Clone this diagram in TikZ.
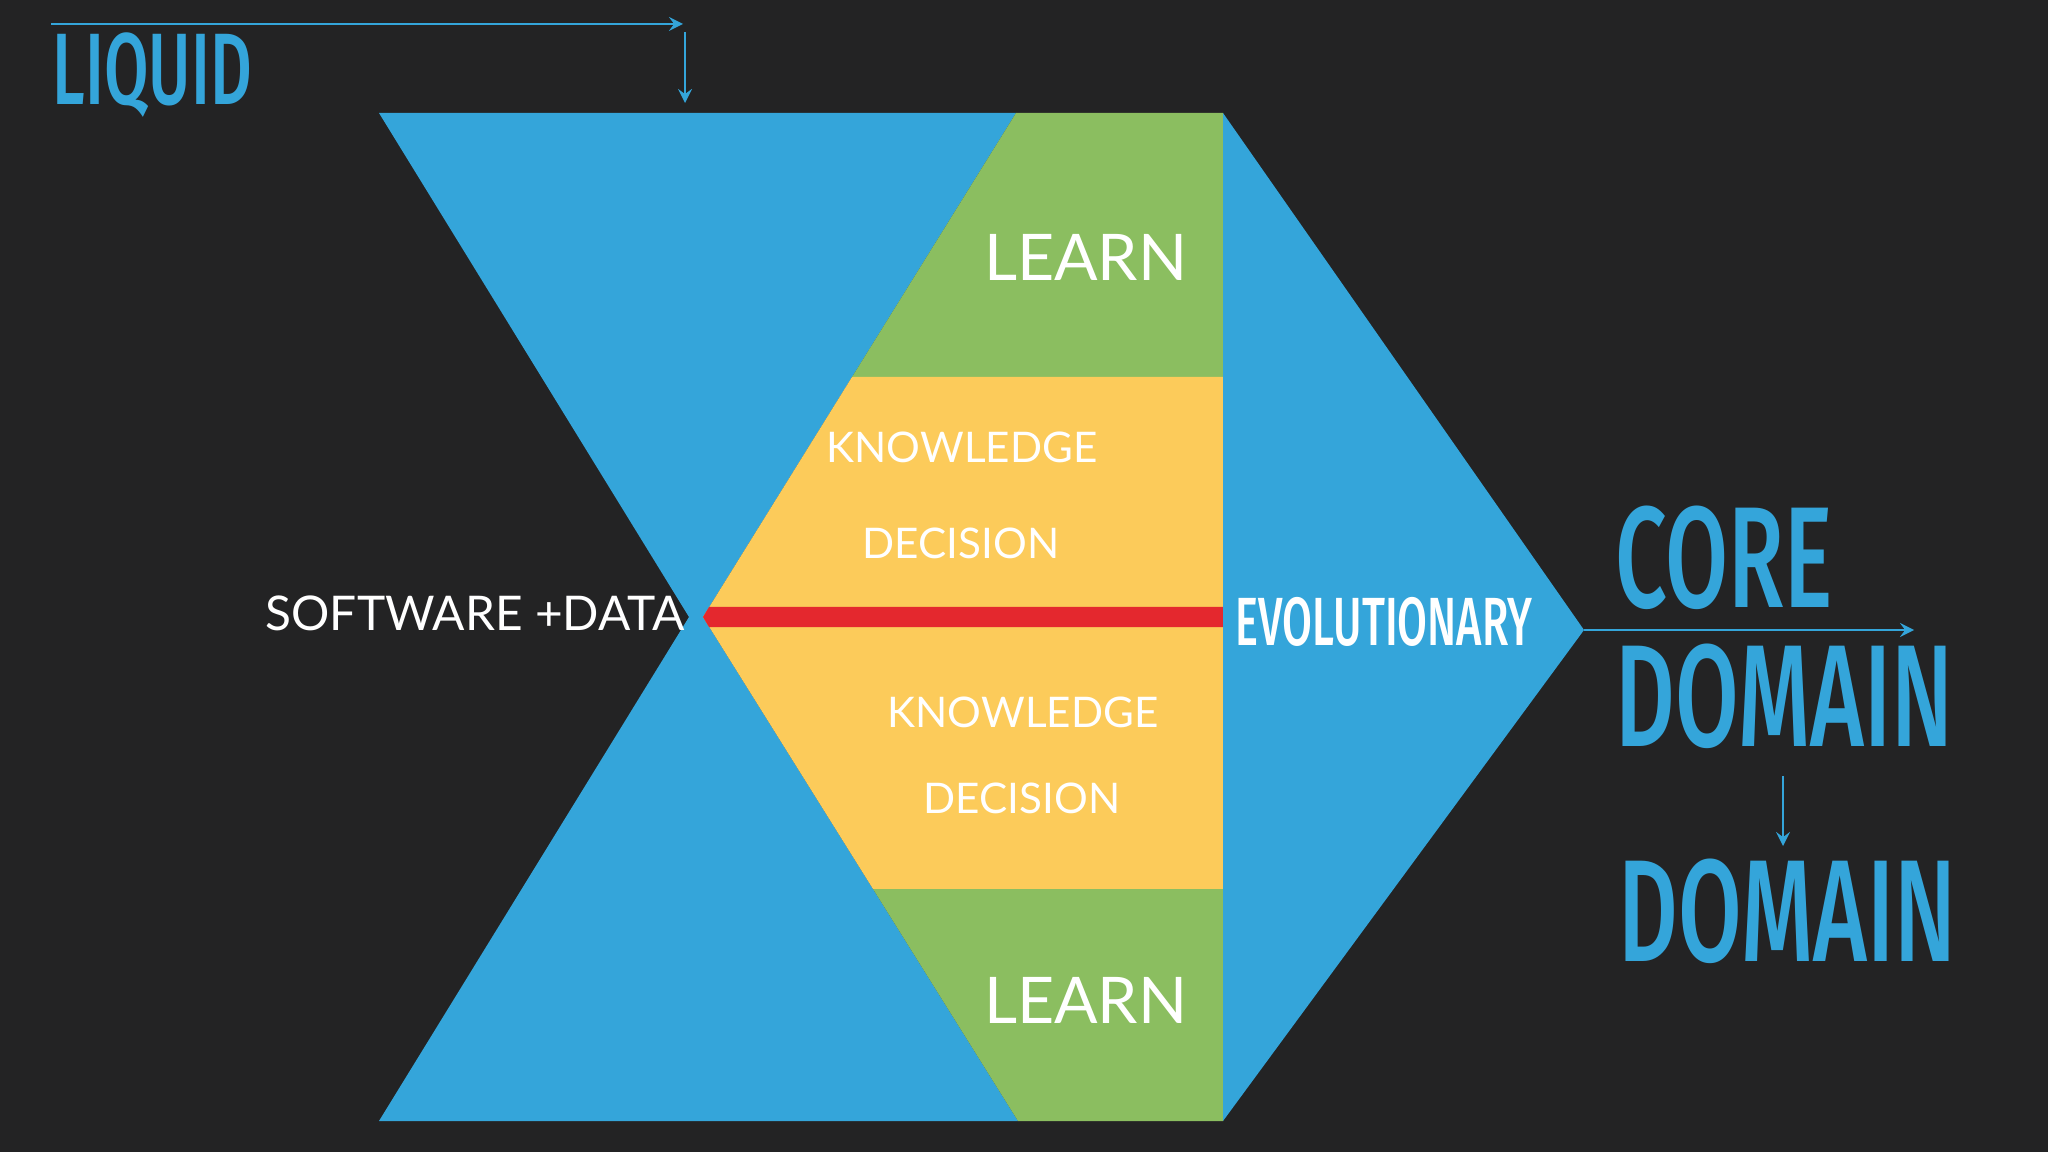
\documentclass[tikz,border=0pt]{standalone}
\usepackage{fontspec}
\setmainfont{Lato}
\newfontfamily\dinfont[FakeStretch=0.635]{Fira Sans Medium}
\definecolor{bg}{RGB}{35,35,36}
\definecolor{skyblue}{RGB}{52,165,218}
\definecolor{leafgreen}{RGB}{139,190,96}
\definecolor{sunyellow}{RGB}{252,203,90}
\definecolor{alertred}{RGB}{228,40,46}
\begin{document}
\begin{tikzpicture}[>=stealth, x=0.01cm, y=-0.01cm,
	word/.style={text=white, inner sep=0pt, font=\fontsize{#1}{#1}\selectfont},
	din/.style={inner sep=0pt, anchor=base west, font=\dinfont\fontsize{#1}{#1}\selectfont},
	link/.style={->, skyblue, line width=0.75pt}]

\useasboundingbox (0,0) rectangle (2048,1152);
\fill [bg] (0,0) rectangle (2048,1152);

\fill [skyblue] (379,113)--(1016,113)--(703,617)--(1018,1121)--(379,1121)--(689,617)--cycle;
\fill [leafgreen] (1016,113)--(1223,113)--(1223,377)--(852,377)--cycle;
\fill [sunyellow] (852,377)--(1223,377)--(1223,617)--(703,617)--cycle;
\fill [sunyellow] (703,617)--(1223,617)--(1223,889)--(873,889)--cycle;
\fill [leafgreen] (873,889)--(1223,889)--(1223,1121)--(1018,1121)--cycle;
\fill [alertred] (703,617)--(709,607)--(1223,607)--(1223,627)--(709,627)--cycle;

\coordinate (tip) at (1584,630);
\fill [skyblue] (1223,113)--(tip)--(1223,1121)--cycle;

\node [word=18.3, anchor=base east] (learnup) at (1188,281) {LEARN};
\node [word=12, anchor=base] (knowup) at (962,463) {KNOWLEDGE};
\node [word=12, anchor=base] (decup) at (961,558) {DECISION};
\node [word=12, anchor=base] (knowdown) at (1023,727) {KNOWLEDGE};
\node [word=12, anchor=base] (decdown) at (1022,813) {DECISION};
\node [word=18.3, anchor=base east] (learndown) at (1188,1023) {LEARN};
\node [word=13.6, anchor=base east] (swdata) at (685,630) {SOFTWARE +DATA};

\node [din=19.4, text=white] (evo) at (1235,646) {EVOLUTIONARY};
\node [din=28.9, text=skyblue] (liquid) at (52,105) {LIQUID};
\node [din=40.9, text=skyblue] (core) at (1615,607) {CORE};
\node [din=41.3, text=skyblue] (coredomain) at (1615,746) {DOMAIN};
\node [din=41.3, text=skyblue] (domain) at (1618,961) {DOMAIN};

\coordinate (liqstart) at (51,24);
\coordinate (liqcorner) at (683,24);
\coordinate (liqtop) at (685,32);
\coordinate (liqend) at (685,103);
\coordinate (coreend) at (1914,630);
\coordinate (domtop) at (1783,776);
\coordinate (domend) at (1783,846);

\draw [link] (liqstart)--(liqcorner);
\draw [link] (liqtop)--(liqend);
\draw [link] (tip)--(coreend);
\draw [link] (domtop)--(domend);

\end{tikzpicture}
\end{document}
